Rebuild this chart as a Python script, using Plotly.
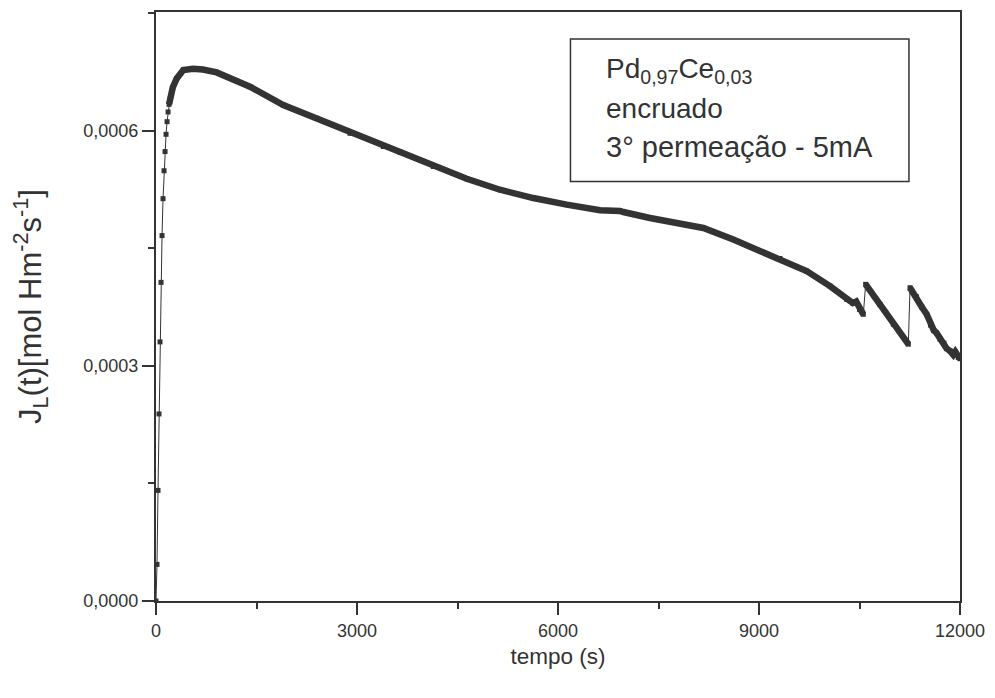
import plotly.graph_objects as go

# ---- data ----
time_s = [0, 15, 30, 45, 60, 75, 90, 105, 120, 135, 150, 165, 180, 195, 210,
          250, 309, 408, 552, 700, 905, 1403, 1900, 2398, 2896, 3393, 3642,
          4139, 4637, 5134, 5632, 6130, 6627, 6925, 6975, 7373, 7771, 8169,
          8617, 8966, 9313, 9711, 10060, 10309, 10400, 10450, 10500, 10557,
          10592, 10806, 11005, 11229,
          11254, 11350, 11430, 11503, 11560, 11610, 11650, 11701, 11760,
          11800, 11851, 11900, 11930, 11975, 12000]
flux = [0.0, 0.0000467, 0.0001411, 0.0002386, 0.0003305, 0.0004064, 0.0004661,
        0.0005132, 0.0005488, 0.0005733, 0.0005953, 0.0006114, 0.0006238,
        0.0006335, 0.0006403,
        0.000655, 0.0006665, 0.0006772, 0.000679, 0.000678, 0.0006742,
        0.000656, 0.0006327, 0.0006157, 0.0005966, 0.0005797, 0.0005725,
        0.0005542, 0.0005386, 0.0005246, 0.000514, 0.0005056, 0.0004985,
        0.0004975, 0.0004962, 0.0004886, 0.0004822, 0.0004758,
        0.000461, 0.0004483, 0.0004369, 0.0004208, 0.0004017, 0.0003848,
        0.000380, 0.000382, 0.000372, 0.0003657,
        0.0004039, 0.0003784, 0.000353, 0.0003276,
        0.0003996, 0.000388, 0.000375, 0.0003657, 0.000352, 0.000345,
        0.000342, 0.000334, 0.000329, 0.000322, 0.000319, 0.000314,
        0.000318, 0.0003106, 0.000309]
jump_times = [10592, 11254]          # sample where a sudden jump starts
dense_from = 195                     # dense-sampling region starts here

x_tickvals = [0, 3000, 6000, 9000, 12000]
x_ticktext = ["0", "3000", "6000", "9000", "12000"]
y_tickvals = [0.0, 0.0003, 0.0006]
y_ticktext = ["0,0000", "0,0003", "0,0006"]

INK = "#333333"
FONT = "Liberation Sans, Arial, sans-serif"

# thick band for the densely sampled part, broken at the jumps
tx, ty = [], []
for t, v in zip(time_s, flux):
    if t < dense_from:
        continue
    if t in jump_times:
        tx.append(None)
        ty.append(None)
    tx.append(t)
    ty.append(v)

fig = go.Figure()
fig.add_trace(go.Scatter(
    x=time_s, y=flux, mode="lines+markers",
    line=dict(color=INK, width=1),
    marker=dict(symbol="square", size=5, color=INK),
    showlegend=False, hoverinfo="skip"))
fig.add_trace(go.Scatter(
    x=tx, y=ty, mode="lines",
    line=dict(color=INK, width=6.5),
    connectgaps=False, showlegend=False, hoverinfo="skip"))

axis_common = dict(
    showline=True, linecolor=INK, linewidth=2, mirror=True,
    ticks="outside", ticklen=12, tickwidth=2, tickcolor=INK,
    showgrid=False, zeroline=False,
    tickfont=dict(family=FONT, size=18, color=INK),
)

fig.update_xaxes(
    range=[0, 12000], tickmode="array", tickvals=x_tickvals,
    ticktext=x_ticktext,
    minor=dict(ticks="outside", ticklen=6, tickwidth=2, tickcolor=INK,
               dtick=1500, tick0=0),
    title=dict(text="tempo (s)", font=dict(family=FONT, size=22.5, color=INK),
               standoff=9),
    **axis_common)
fig.update_yaxes(
    range=[0, 0.0007513], tickmode="array", tickvals=y_tickvals,
    ticktext=y_ticktext,
    minor=dict(ticks="outside", ticklen=6, tickwidth=2, tickcolor=INK,
               dtick=0.00015, tick0=0),
    title=dict(text="J<sub>L</sub>(t)[mol Hm<sup>-2</sup>s<sup>-1</sup>]",
               font=dict(family=FONT, size=31, color=INK), standoff=42),
    **axis_common)

# legend-like text box
fig.add_shape(type="rect", xref="paper", yref="paper",
              x0=0.5155, x1=0.9365, y0=0.7124, y1=0.9543,
              line=dict(color=INK, width=1.5), fillcolor="white", layer="above")
fig.add_annotation(xref="paper", yref="paper", x=0.5572, y=0.901,
                   xanchor="left", yanchor="middle", showarrow=False,
                   text="Pd<sub>0,97</sub>Ce<sub>0,03</sub>",
                   font=dict(family=FONT, size=28, color=INK))
fig.add_annotation(xref="paper", yref="paper", x=0.5572, y=0.836,
                   xanchor="left", yanchor="middle", showarrow=False,
                   text="encruado",
                   font=dict(family=FONT, size=28, color=INK))
fig.add_annotation(xref="paper", yref="paper", x=0.5572, y=0.7716,
                   xanchor="left", yanchor="middle", showarrow=False,
                   text="3° permeação - 5mA",
                   font=dict(family=FONT, size=29, color=INK))

# the page adds an 8px body margin, so the figure is 8px smaller
fig.update_layout(
    width=987, height=690,
    margin=dict(l=148, r=35, t=2, b=97),
    plot_bgcolor="white", paper_bgcolor="white",
    font=dict(family=FONT, color=INK),
)

fig.write_html("out.html")
